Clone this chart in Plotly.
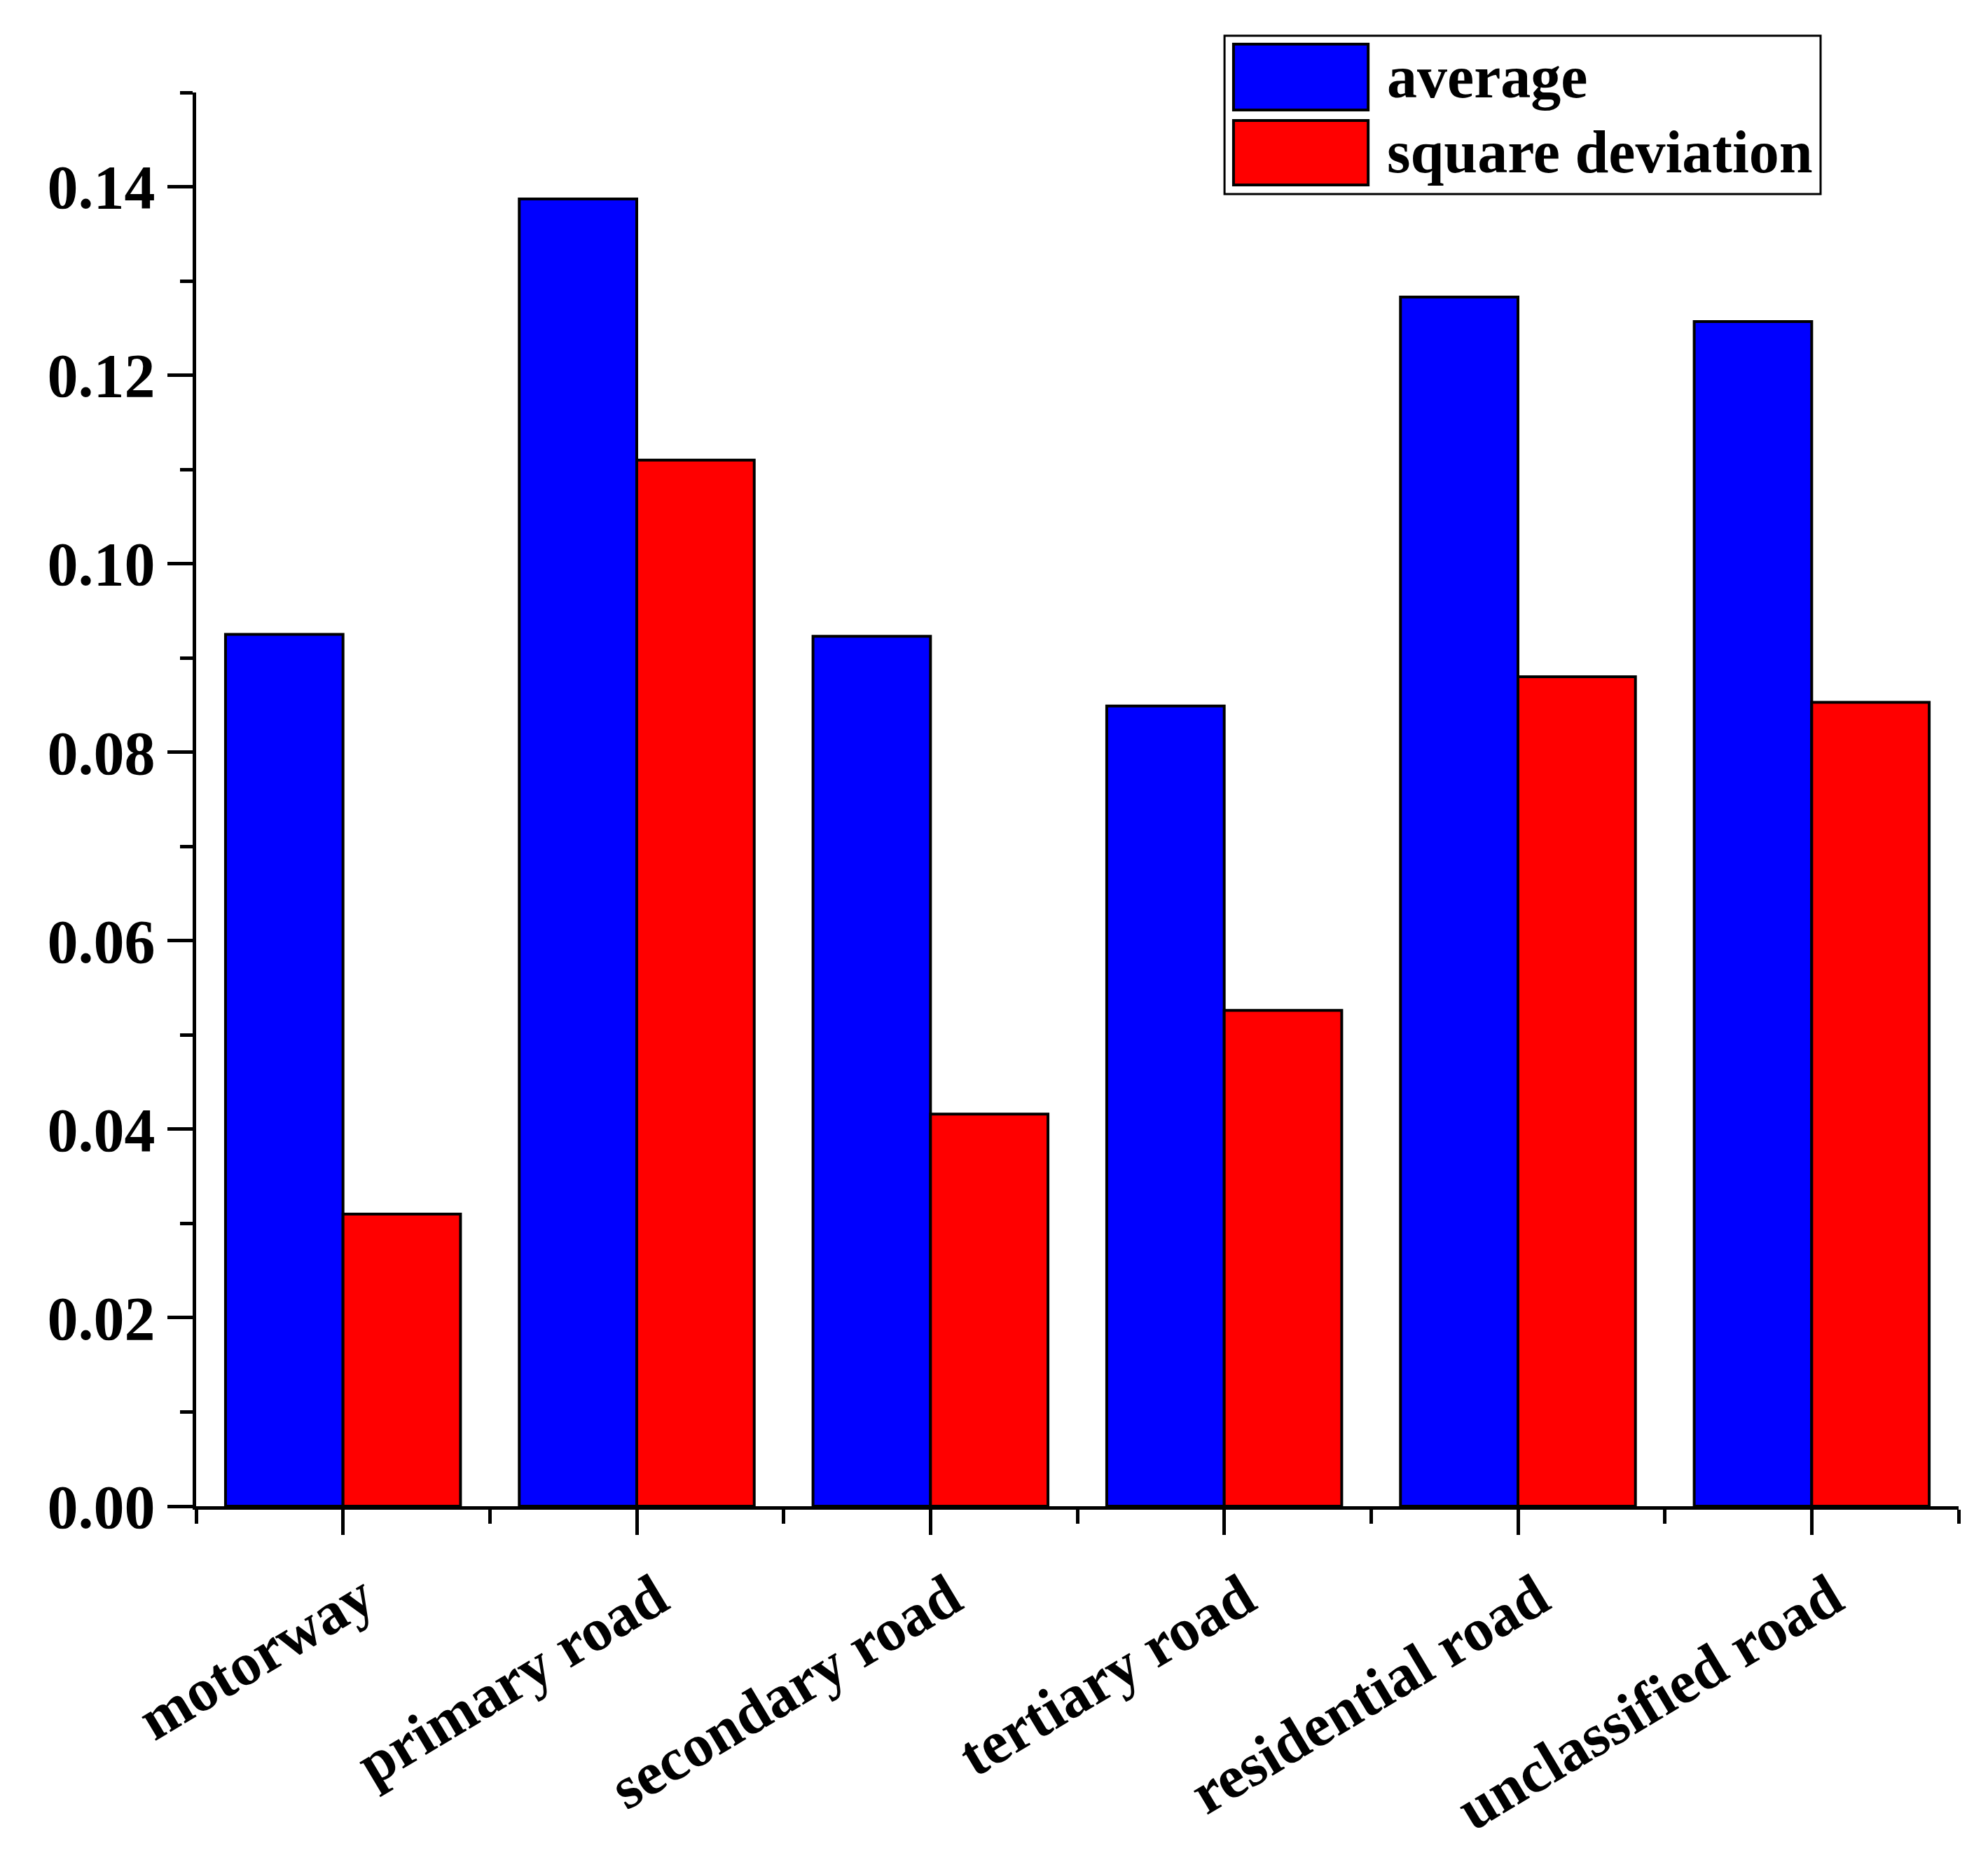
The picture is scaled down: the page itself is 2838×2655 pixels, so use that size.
import plotly.graph_objects as go

categories = ["motorway", "primary road", "secondary road", "tertiary road",
              "residential road", "unclassified road"]
average = [0.0925, 0.1387, 0.0923, 0.0849, 0.1283, 0.1257]
square_deviation = [0.0310, 0.1110, 0.0416, 0.0526, 0.0880, 0.0853]
y_tick_values = [0.00, 0.02, 0.04, 0.06, 0.08, 0.10, 0.12, 0.14]
series_names = ["average", "square deviation"]

FONT = "Liberation Serif"
x_pos = list(range(len(categories)))

fig = go.Figure()
fig.add_trace(go.Bar(x=x_pos, y=average, name=series_names[0],
                     marker=dict(color="#0000FF", line=dict(color="black", width=4)),
                     showlegend=False))
fig.add_trace(go.Bar(x=x_pos, y=square_deviation, name=series_names[1],
                     marker=dict(color="#FF0000", line=dict(color="black", width=4)),
                     showlegend=False))

fig.update_layout(
    width=2838, height=2655,
    margin=dict(l=280, r=42, t=132, b=505, pad=0),
    paper_bgcolor="white", plot_bgcolor="white",
    barmode="group", bargap=0.2, bargroupgap=0,
    font=dict(family=FONT, color="black"),
)

fig.update_xaxes(
    range=[-0.5, 5.5], tickmode="array", tickvals=x_pos,
    ticktext=[f"<b>{c}</b>" for c in categories],
    tickangle=-31, tickfont=dict(family=FONT, size=86, color="black"),
    ticklabelshift=28, ticklabelstandoff=6, automargin=False,
    showline=True, linecolor="black", linewidth=5,
    ticks="outside", ticklen=36, tickwidth=5, tickcolor="black",
    minor=dict(tick0=-0.5, dtick=1, ticks="outside", ticklen=20, tickwidth=5, tickcolor="black"),
    showgrid=False, zeroline=False,
)
fig.update_yaxes(
    range=[0, 0.15], tickmode="array", tickvals=y_tick_values,
    ticktext=[f"<b>{v:.2f}</b>" for v in y_tick_values],
    tickfont=dict(family=FONT, size=88, color="black"), automargin=False,
    showline=True, linecolor="black", linewidth=5,
    ticks="outside", ticklen=36, tickwidth=5, tickcolor="black",
    minor=dict(tick0=0, dtick=0.01, ticks="outside", ticklen=18, tickwidth=5, tickcolor="black"),
    showgrid=False, zeroline=False,
)

# Manual legend (large swatches as in the reference)
fig.add_shape(type="rect", xref="paper", yref="paper",
              x0=0.5835, x1=0.9217, y0=0.9281, y1=1.0401,
              line=dict(color="black", width=3), fillcolor="white")
fig.add_shape(type="rect", xref="paper", yref="paper",
              x0=0.5886, x1=0.6650, y0=0.9876, y1=1.0342,
              line=dict(color="black", width=4), fillcolor="#0000FF")
fig.add_shape(type="rect", xref="paper", yref="paper",
              x0=0.5886, x1=0.6650, y0=0.9346, y1=0.9802,
              line=dict(color="black", width=4), fillcolor="#FF0000")
fig.add_annotation(xref="paper", yref="paper", x=0.6749, y=1.0109,
                   xanchor="left", yanchor="middle", showarrow=False,
                   text=f"<b>{series_names[0]}</b>",
                   font=dict(family=FONT, size=86, color="black"))
fig.add_annotation(xref="paper", yref="paper", x=0.6749, y=0.9579,
                   xanchor="left", yanchor="middle", showarrow=False,
                   text=f"<b>{series_names[1]}</b>",
                   font=dict(family=FONT, size=86, color="black"))

fig.write_html("out.html")
